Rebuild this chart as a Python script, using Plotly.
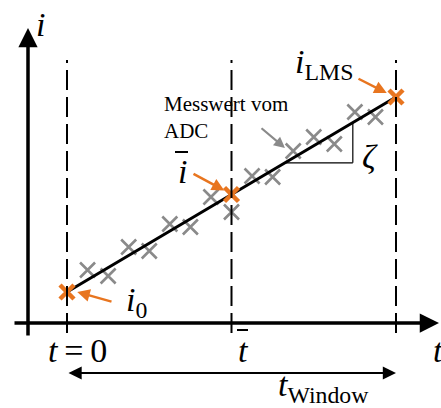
import plotly.graph_objects as go

# Sampled ADC values inside the window (time index, current)
t_samples = list(range(1, 16))
i_samples = [5.3, 4.7, 7.6, 7.2, 9.9, 9.6, 12.6, 11.1, 14.7, 14.6, 17.2, 18.6, 17.9, 21.1, 20.6]

# Key points: start of the fit, mean point, LMS end point
t_key = [0, 8, 16]
i_key = [3.1, 12.85, 22.6]

ORANGE = "#E8751F"
GRAY = "#8A8A8A"
SERIF = "Times New Roman, Liberation Serif, serif"

W, H = 441, 408
PX_T = 329 / 16     # pixels per time step
PX_I = 10           # pixels per current unit
X0, Y0 = 67, 323    # pixel location of t=0, i=0


def tx(px):
    return (px - X0) / PX_T


def iy(py):
    return (Y0 - py) / PX_I


slope = (i_key[-1] - i_key[0]) / (t_key[-1] - t_key[0])


def fit(t):
    return i_key[0] + slope * (t - t_key[0])


fig = go.Figure()

# gray measurement crosses
fig.add_trace(go.Scatter(
    x=t_samples, y=i_samples, mode="markers",
    marker=dict(symbol="x-thin", size=15, line=dict(width=2.6, color=GRAY)),
    hoverinfo="skip"))

# fitted line
fig.add_trace(go.Scatter(
    x=[t_key[0], t_key[-1]], y=[i_key[0], i_key[-1]], mode="lines",
    line=dict(color="black", width=3), hoverinfo="skip"))

# orange key points
fig.add_trace(go.Scatter(
    x=t_key, y=i_key, mode="markers",
    marker=dict(symbol="x-thin", size=14, line=dict(width=4.5, color=ORANGE)),
    hoverinfo="skip"))

shapes = []
# dashed window boundaries and mean time
for t in t_key:
    shapes.append(dict(type="line", xref="x", yref="y", x0=t, x1=t,
                       y0=iy(333), y1=iy(60),
                       line=dict(color="black", width=2, dash="20px,7px")))

# slope triangle
ta, tb = 10.6, 13.9
shapes.append(dict(type="line", x0=ta, x1=tb, y0=fit(ta), y1=fit(ta),
                   line=dict(color="black", width=1.2)))
shapes.append(dict(type="line", x0=tb, x1=tb, y0=fit(ta), y1=fit(tb),
                   line=dict(color="black", width=1.2)))

# bars over i and t (mean symbols)
shapes.append(dict(type="line", x0=tx(175), x1=tx(188), y0=iy(152), y1=iy(152),
                   line=dict(color="black", width=2)))
shapes.append(dict(type="line", x0=tx(237), x1=tx(248), y0=iy(330), y1=iy(330),
                   line=dict(color="black", width=2)))

ann = []


def arrow(x, y, ax, ay, color, width, head=2, size=1.0, side="end"):
    ann.append(dict(x=x, y=y, ax=ax, ay=ay, xref="x", yref="y",
                    axref="x", ayref="y", showarrow=True, text="",
                    arrowhead=head, arrowsize=size, arrowwidth=width,
                    arrowcolor=color, arrowside=side, standoff=0,
                    startstandoff=0))


# coordinate axes
arrow(tx(28), iy(28), tx(28), iy(337), "black", 3.5, head=2, size=1.1)
arrow(tx(439), 0, tx(13), 0, "black", 3.5, head=2, size=1.1)

# window width arrow
arrow(t_key[-1], iy(373), t_key[0], iy(373), "black", 2.2, head=2, size=1.2,
      side="end+start")

# pointers
arrow(t_key[0] + 0.5, i_key[0], tx(113), iy(302), ORANGE, 2.5)
arrow(t_key[1] - 0.35, i_key[1] + 0.4, tx(192), iy(173), ORANGE, 2.5)
arrow(t_key[2] - 0.45, i_key[2] + 0.4, tx(357), iy(78), ORANGE, 2.5)
arrow(10.6, 17.5, tx(260), iy(127), GRAY, 2.2)


def label(text, x, y, size=34, xanchor="center", yanchor="middle", align="center"):
    ann.append(dict(x=x, y=y, xref="x", yref="y", text=text, showarrow=False,
                    xanchor=xanchor, yanchor=yanchor, align=align,
                    font=dict(family=SERIF, size=size, color="black")))


label("<i>i</i>", tx(40), iy(24))
label("<i>t</i>", tx(438), iy(350))
label("<i>t</i>\u2009=\u20090", tx(77), iy(350))
label("<i>t</i>", tx(243), iy(350))
label("<i>i</i>", tx(182), iy(171))
label("<i>i</i><sub>0</sub>", tx(124), iy(302), xanchor="left")
label("<i>i</i><sub>LMS</sub>", tx(293), iy(64), xanchor="left")
label("<i>t</i><sub>Window</sub>", tx(323), iy(387))
label("<i>ζ</i>", tx(370), iy(156))
label("Messwert vom<br>ADC", tx(162), iy(90), size=21,
      xanchor="left", yanchor="top", align="left")

fig.update_layout(
    width=W, height=H, margin=dict(l=0, r=0, t=0, b=0),
    paper_bgcolor="white", plot_bgcolor="white", showlegend=False,
    xaxis=dict(range=[tx(0), tx(W)], visible=False, fixedrange=True),
    yaxis=dict(range=[iy(H), iy(0)], visible=False, fixedrange=True),
    shapes=shapes, annotations=ann)

fig.write_html("out.html", config={"displayModeBar": False})
